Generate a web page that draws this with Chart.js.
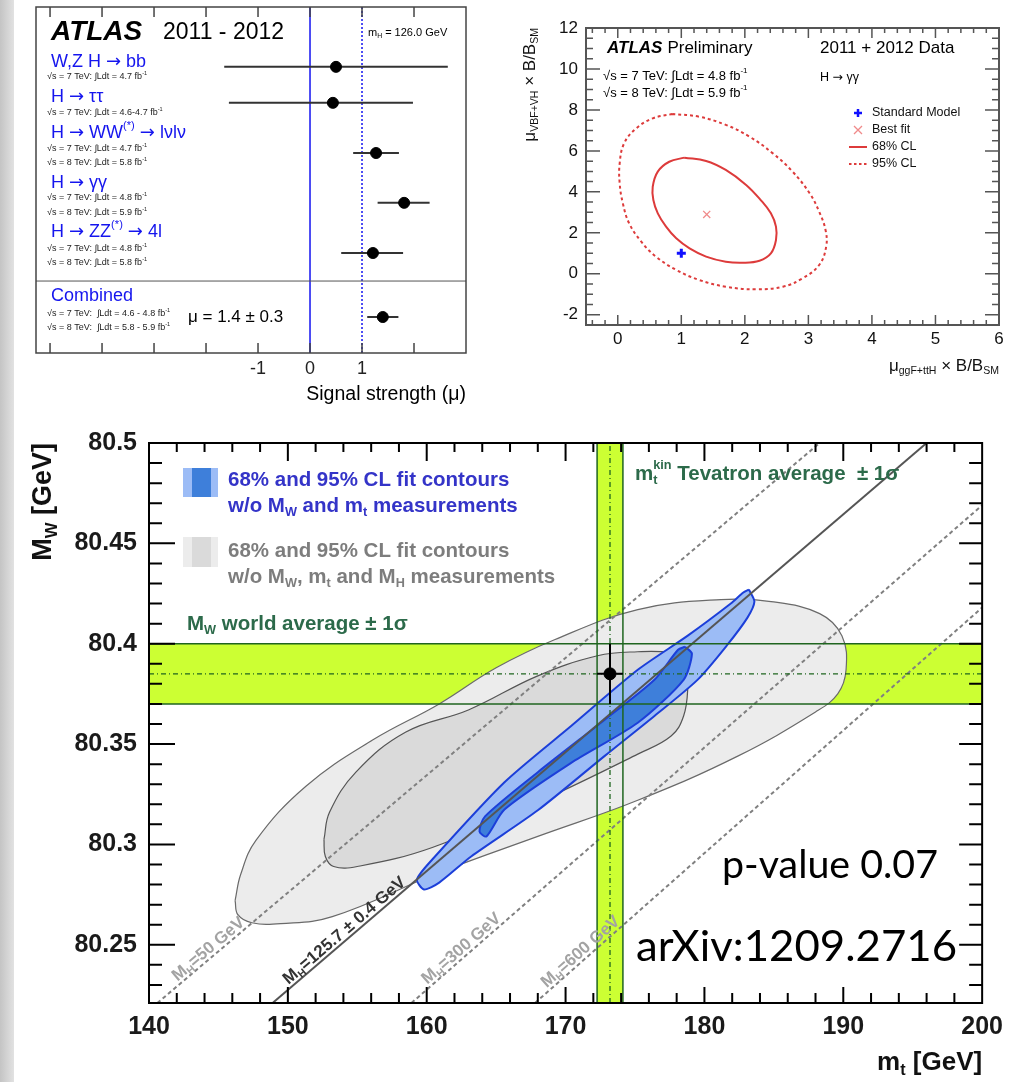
<!DOCTYPE html>
<html>
<head>
<meta charset="utf-8">
<script src="https://cdn.jsdelivr.net/npm/chart.js@4.4.1/dist/chart.umd.min.js"></script>
<style>
  html, body { margin: 0; padding: 0; background: #fff; }
  #page { position: relative; width: 1012px; height: 1082px; overflow: hidden; background: #fff; }
  #page canvas { position: absolute; }
  .edge { position: absolute; left: 0; top: 0; width: 14px; height: 1082px; background: linear-gradient(90deg, #c4c4c4, #e2e2e2); }
</style>
</head>
<body>
<div id="page">
  <div class="edge"></div>
  <canvas id="mu-summary" width="480" height="410" style="left:0;top:0"></canvas>
  <canvas id="gg-contour" width="522" height="400" style="left:490px;top:0"></canvas>
  <canvas id="mw-mt" width="1012" height="672" style="left:0;top:410px"></canvas>
</div>
<script>
// ---- signal strength per channel ----
var channelRows = [1.73, 2.77, 4.22, 5.66, 7.11, 8.96];
var muValue = [0.5, 0.44, 1.27, 1.81, 1.21, 1.4];
var muLow = [-1.65, -1.56, 0.83, 1.3, 0.6, 1.1];
var muHigh = [2.65, 1.98, 1.71, 2.3, 1.79, 1.7];
var muTicks = [-1, 0, 1];
var muFrameTicks = [-5, -4, -3, -2, -1, 0, 1, 2];
var muMin = -5.27, muMax = 3;
var combinedSplit = 7.92;

// ---- H -> gamma gamma: ggF+ttH vs VBF+VH ----
var ggfTicks = [0, 1, 2, 3, 4, 5, 6];
var vbfTicks = [-2, 0, 2, 4, 6, 8, 10, 12];
var cl68Ggf = [1.05, 0.81, 0.63, 0.55, 0.56, 0.63, 0.76, 0.92, 1.13, 1.39, 1.70, 1.97, 2.23, 2.41, 2.49, 2.49, 2.41, 2.25, 2.02, 1.70, 1.39, 1.05];
var cl68Vbf = [5.67, 5.47, 4.99, 4.25, 3.60, 2.95, 2.30, 1.73, 1.24, 0.84, 0.59, 0.54, 0.64, 1.00, 1.65, 2.30, 2.95, 3.60, 4.34, 5.07, 5.51, 5.67];
var cl95Ggf = [0.86, 0.55, 0.29, 0.10, 0.03, 0.03, 0.08, 0.18, 0.37, 0.60, 0.92, 1.28, 1.70, 2.18, 2.60, 2.91, 3.17, 3.28, 3.27, 3.17, 3.02, 2.75, 2.44, 2.07, 1.70, 1.28, 0.86];
var cl95Vbf = [7.80, 7.59, 7.10, 6.37, 5.39, 4.42, 3.44, 2.46, 1.57, 0.84, 0.19, -0.30, -0.63, -0.76, -0.63, -0.22, 0.43, 1.33, 2.14, 3.03, 3.93, 4.99, 5.88, 6.70, 7.27, 7.67, 7.80];
var bestFit = [1.4, 2.9];
var smPoint = [1, 1];

// ---- M_W vs m_t ----
var mtTicks = [140, 150, 160, 170, 180, 190, 200];
var mwTicks = [80.25, 80.3, 80.35, 80.4, 80.45, 80.5];
var mtMin = 140, mtMax = 200, mwMin = 80.221, mwMax = 80.5;
var mwAvg = 80.385, mwErr = 0.015;
var mtAvg = 173.2, mtErr = 0.93;
var mhValues = ['50', '125.7 ± 0.4', '300', '600'];
var mhLineMt = [[140.6, 188.3], [148.9, 196.0], [158.9, 200], [167.8, 200]];
var mhLineMw = [[80.221, 80.5], [80.221, 80.5], [80.221, 80.469], [80.221, 80.418]];
var grey95Mt = [146.2, 146.6, 147.7, 151.3, 156.1, 160.9, 165.0, 169.2, 175.2, 181.2, 184.8, 188.3, 189.9, 190.2, 189.6, 188.0, 182.4, 175.2, 168.0, 160.9, 153.2, 149.5, 147.4, 146.4, 146.2];
var grey95Mw = [80.272, 80.285, 80.302, 80.329, 80.352, 80.370, 80.388, 80.402, 80.417, 80.422, 80.421, 80.415, 80.404, 80.387, 80.375, 80.366, 80.344, 80.322, 80.304, 80.286, 80.264, 80.2605, 80.261, 80.265, 80.272];
var grey68Mt = [152.6, 153.0, 154.9, 158.5, 163.0, 168.0, 172.3, 175.2, 177.6, 178.7, 178.8, 178.5, 177.6, 175.2, 168.0, 160.4, 155.0, 153.3, 152.7, 152.6];
var grey68Mw = [80.3025, 80.316, 80.336, 80.356, 80.367, 80.384, 80.394, 80.396, 80.3955, 80.392, 80.378, 80.364, 80.354, 80.345, 80.321, 80.2985, 80.289, 80.289, 80.294, 80.3025];
var blue95Mt = [183.2, 183.6, 183.1, 181.6, 179.5, 176.4, 172.8, 168.0, 163.2, 160.9, 159.8, 159.3, 160.4, 165.6, 170.4, 175.2, 178.8, 181.9, 182.8, 183.2];
var blue95Mw = [80.427, 80.421, 80.413, 80.399, 80.382, 80.364, 80.344, 80.317, 80.294, 80.281, 80.2776, 80.2826, 80.2925, 80.331, 80.359, 80.387, 80.404, 80.420, 80.4255, 80.427];
var blue68Mt = [178.6, 179.1, 178.5, 175.2, 170.4, 165.6, 164.3, 163.8, 164.2, 168.0, 172.8, 176.4, 178.1, 178.6];
var blue68Mw = [80.3985, 80.395, 80.382, 80.3606, 80.3406, 80.3174, 80.304, 80.3065, 80.314, 80.336, 80.362, 80.382, 80.397, 80.3985];

var SANS = '"Liberation Sans", Arial, Helvetica, sans-serif';
var ARROW = '"DejaVu Sans", sans-serif';

function richFont(o, small, family) {
  var size = small ? o.size * 0.62 : o.size;
  return (o.style || 'normal') + ' ' + (o.weight || 'normal') + ' ' + size + 'px ' + (family || o.family || SANS);
}

// text with sub/superscripts: parts are [text, 'sub'|'sup'|'both'|'', family]
function drawRich(ctx, parts, x, y, o) {
  var widths = parts.map(function (p) {
    if (p[1] === 'both') {
      ctx.font = richFont(o, true, p[2]);
      return Math.max(ctx.measureText(p[0][0]).width, ctx.measureText(p[0][1]).width);
    }
    ctx.font = richFont(o, !!p[1], p[2]);
    return ctx.measureText(p[0]).width;
  });
  var total = widths.reduce(function (s, w) { return s + w; }, 0);
  var cx = o.align === 'right' ? x - total : (o.align === 'center' ? x - total / 2 : x);
  ctx.save();
  ctx.fillStyle = o.color || '#000';
  ctx.textAlign = 'left';
  ctx.textBaseline = 'middle';
  parts.forEach(function (p, i) {
    var mode = p[1] || '';
    ctx.font = richFont(o, mode !== '', p[2]);
    if (mode === 'both') {
      ctx.fillText(p[0][0], cx, y - o.size * 0.42);
      ctx.fillText(p[0][1], cx, y + o.size * 0.32);
    } else {
      var dy = mode === 'sub' ? o.size * 0.3 : (mode === 'sup' ? -o.size * 0.42 : 0);
      ctx.fillText(p[0], cx, y + dy);
    }
    cx += widths[i];
  });
  ctx.restore();
  return total;
}

function drawFitted(ctx, text, x, y, size, width, family) {
  ctx.save();
  ctx.font = size + 'px ' + family;
  var w = ctx.measureText(text).width;
  ctx.translate(x, y);
  ctx.scale(width / w, 1);
  ctx.textAlign = 'left';
  ctx.textBaseline = 'middle';
  ctx.fillStyle = '#000';
  ctx.fillText(text, 0, 0);
  ctx.restore();
}

function curve(xs, ys, style) {
  var ds = {
    data: xs.map(function (x, i) { return {x: x, y: ys[i]}; }),
    pointRadius: 0, borderWidth: 1, fill: false, tension: 0
  };
  return Object.assign(ds, style);
}

// first dataset in the list ends up at the bottom
function stackOrder(list) {
  list.forEach(function (d, i) { d.order = list.length - i; });
  return list;
}

function minorValues(min, max, step, majors) {
  var out = [];
  if (!step) return out;
  var n0 = Math.ceil(min / step - 1e-6), n1 = Math.floor(max / step + 1e-6);
  for (var n = n0; n <= n1; n++) {
    var v = n * step;
    if (!majors.some(function (m) { return Math.abs(m - v) < step / 10; })) out.push(v);
  }
  return out;
}

// frame with inward tick marks on the chart area
var rootFrame = {
  id: 'rootFrame',
  afterDatasetsDraw: function (chart, args, o) {
    var ctx = chart.ctx, a = chart.chartArea, sx = chart.scales.x, sy = chart.scales.y;
    ctx.save();
    ctx.strokeStyle = o.color;
    ctx.lineWidth = o.tickWidth;
    ctx.beginPath();
    function xMarks(vals, k) {
      vals.forEach(function (v) {
        var p = sx.getPixelForValue(v);
        if (p < a.left + 1 || p > a.right - 1) return;
        if (o.xLen.bottom) { ctx.moveTo(p, a.bottom); ctx.lineTo(p, a.bottom - o.xLen.bottom[k]); }
        if (o.xLen.top) { ctx.moveTo(p, a.top); ctx.lineTo(p, a.top + o.xLen.top[k]); }
      });
    }
    function yMarks(vals, k) {
      vals.forEach(function (v) {
        var p = sy.getPixelForValue(v);
        if (p < a.top + 1 || p > a.bottom - 1) return;
        if (o.yLen.left) { ctx.moveTo(a.left, p); ctx.lineTo(a.left + o.yLen.left[k], p); }
        if (o.yLen.right) { ctx.moveTo(a.right, p); ctx.lineTo(a.right - o.yLen.right[k], p); }
      });
    }
    if (o.xMajor) {
      xMarks(o.xMajor, 0);
      xMarks(minorValues(sx.min, sx.max, o.xMinorStep, o.xMajor), 1);
    }
    if (o.yMajor) {
      yMarks(o.yMajor, 0);
      yMarks(minorValues(sy.min, sy.max, o.yMinorStep, o.yMajor), 1);
    }
    ctx.stroke();
    ctx.lineWidth = o.frameWidth;
    ctx.strokeRect(a.left, a.top, a.right - a.left, a.bottom - a.top);
    ctx.restore();
  }
};

function fixedTicks(values) {
  return function (scale) { scale.ticks = values.map(function (v) { return {value: v}; }); };
}

var common = { responsive: false, animation: false, events: [] };

// ================= signal strength summary =================
var arrow = ['→', '', ARROW];
var channelText = [
  {title: [['W,Z H '], arrow, [' bb']], y: 62, lines: [[['√s = 7 TeV: ∫Ldt = 4.7 fb'], ['-1', 'sup']]], ly: [77]},
  {title: [['H '], arrow, [' ττ']], y: 97, lines: [[['√s = 7 TeV: ∫Ldt = 4.6-4.7 fb'], ['-1', 'sup']]], ly: [113]},
  {title: [['H '], arrow, [' WW'], ['(*)', 'sup'], [' '], arrow, [' lνlν']], y: 133,
   lines: [[['√s = 7 TeV: ∫Ldt = 4.7 fb'], ['-1', 'sup']], [['√s = 8 TeV: ∫Ldt = 5.8 fb'], ['-1', 'sup']]], ly: [149, 163]},
  {title: [['H '], arrow, [' γγ']], y: 183,
   lines: [[['√s = 7 TeV: ∫Ldt = 4.8 fb'], ['-1', 'sup']], [['√s = 8 TeV: ∫Ldt = 5.9 fb'], ['-1', 'sup']]], ly: [198, 213]},
  {title: [['H '], arrow, [' ZZ'], ['(*)', 'sup'], [' '], arrow, [' 4l']], y: 232,
   lines: [[['√s = 7 TeV: ∫Ldt = 4.8 fb'], ['-1', 'sup']], [['√s = 8 TeV: ∫Ldt = 5.8 fb'], ['-1', 'sup']]], ly: [249, 263]},
  {title: [['Combined']], y: 296,
   lines: [[['√s = 7 TeV:  ∫Ldt = 4.6 - 4.8 fb'], ['-1', 'sup']], [['√s = 8 TeV:  ∫Ldt = 5.8 - 5.9 fb'], ['-1', 'sup']]], ly: [314, 328]}
];

var summaryText = {
  id: 'summaryText',
  afterDraw: function (chart) {
    var ctx = chart.ctx, a = chart.chartArea;
    drawRich(ctx, [['ATLAS']], 51, 32, {size: 28, weight: 'bold', style: 'italic'});
    drawRich(ctx, [['2011 - 2012']], 163, 33, {size: 23});
    drawRich(ctx, [['m'], ['H', 'sub'], [' = 126.0 GeV']], 368, 33, {size: 11});
    channelText.forEach(function (c) {
      drawRich(ctx, c.title, 51, c.y, {size: 18, color: '#1515ee'});
      c.lines.forEach(function (l, j) {
        drawRich(ctx, l, 47, c.ly[j], {size: 9, color: '#222'});
      });
    });
    var last = muValue.length - 1;
    var muText = 'μ = ' + muValue[last].toFixed(1) + ' ± ' + ((muHigh[last] - muLow[last]) / 2).toFixed(1);
    drawRich(ctx, [[muText]], 188, 317, {size: 17});
    drawRich(ctx, [['Signal strength (μ)']], a.right, 395, {size: 19.5, align: 'right'});
  }
};

var summarySets = [
  curve([0, 0], [0, 10], {borderColor: '#1414f0', borderWidth: 1.5}),
  curve([1, 1], [0, 10], {borderColor: '#1414f0', borderWidth: 1.5, borderDash: [2, 2]}),
  curve([muMin, muMax], [combinedSplit, combinedSplit], {borderColor: '#555', borderWidth: 1})
];
channelRows.forEach(function (row, i) {
  summarySets.push(curve([muLow[i], muHigh[i]], [row, row], {borderColor: '#333', borderWidth: 2}));
});
summarySets.push({
  data: channelRows.map(function (r, i) { return {x: muValue[i], y: r}; }),
  showLine: false, pointRadius: 5.5, pointBackgroundColor: '#000', pointBorderColor: '#000'
});

new Chart(document.getElementById('mu-summary'), {
  type: 'line',
  data: { datasets: stackOrder(summarySets) },
  options: Object.assign({}, common, {
    layout: { padding: {left: 36, top: 7, right: 14, bottom: 0} },
    plugins: {
      legend: {display: false}, tooltip: {enabled: false},
      rootFrame: { color: '#444', tickWidth: 1.5, frameWidth: 1.5, xMajor: muFrameTicks, xMinorStep: 0,
                   xLen: {bottom: [10, 0], top: [10, 0]} }
    },
    scales: {
      x: { type: 'linear', min: muMin, max: muMax,
           grid: {display: false, drawTicks: false}, border: {display: false},
           afterBuildTicks: fixedTicks(muTicks),
           afterFit: function (s) { s.height = 57; },
           ticks: { padding: 5, color: '#222', font: {family: 'Liberation Sans', size: 18} } },
      y: { type: 'linear', min: 0, max: 10, reverse: true, display: false }
    }
  }),
  plugins: [rootFrame, summaryText]
});

// ================= H -> gamma gamma contours =================
var ggText = {
  id: 'ggText',
  afterDraw: function (chart) {
    var ctx = chart.ctx, a = chart.chartArea;
    var w = drawRich(ctx, [['ATLAS']], 117, 48, {size: 17, weight: 'bold', style: 'italic'});
    drawRich(ctx, [['Preliminary']], 117 + w + 5, 48, {size: 17});
    drawRich(ctx, [['2011 + 2012 Data']], 330, 48, {size: 17});
    drawRich(ctx, [['√s = 7 TeV: ∫Ldt = 4.8 fb'], ['-1', 'sup']], 113, 76, {size: 13});
    drawRich(ctx, [['√s = 8 TeV: ∫Ldt = 5.9 fb'], ['-1', 'sup']], 113, 93, {size: 13});
    drawRich(ctx, [['H '], arrow, [' γγ']], 330, 78, {size: 12.5});

    // legend
    ctx.save();
    ctx.strokeStyle = '#1010ff'; ctx.lineWidth = 2.5;
    ctx.beginPath(); ctx.moveTo(364, 113); ctx.lineTo(372, 113); ctx.moveTo(368, 109); ctx.lineTo(368, 117); ctx.stroke();
    ctx.strokeStyle = '#f08a8a'; ctx.lineWidth = 1.3;
    ctx.beginPath(); ctx.moveTo(364, 126); ctx.lineTo(372, 134); ctx.moveTo(372, 126); ctx.lineTo(364, 134); ctx.stroke();
    ctx.strokeStyle = '#dd3b3b'; ctx.lineWidth = 2;
    ctx.beginPath(); ctx.moveTo(359, 147); ctx.lineTo(377, 147); ctx.stroke();
    ctx.setLineDash([2.5, 2.5]);
    ctx.beginPath(); ctx.moveTo(359, 164); ctx.lineTo(377, 164); ctx.stroke();
    ctx.restore();
    ['Standard Model', 'Best fit', '68% CL', '95% CL'].forEach(function (t, i) {
      drawRich(ctx, [[t]], 382, [113, 130, 147, 164][i], {size: 12.5, color: '#111'});
    });

    // axis titles
    drawRich(ctx, [['μ'], ['ggF+ttH', 'sub'], [' × B/B'], ['SM', 'sub']], a.right, 366, {size: 17, align: 'right', color: '#111'});
    ctx.save();
    ctx.translate(40, a.top);
    ctx.rotate(-Math.PI / 2);
    drawRich(ctx, [['μ'], ['VBF+VH', 'sub'], [' × B/B'], ['SM', 'sub']], 0, 0, {size: 17, align: 'right', color: '#111'});
    ctx.restore();
  }
};

var ggSets = [
  curve(cl95Ggf, cl95Vbf, {borderColor: '#dd3b3b', borderWidth: 2, borderDash: [3, 3], tension: 0.4}),
  curve(cl68Ggf, cl68Vbf, {borderColor: '#dd3b3b', borderWidth: 2, tension: 0.4}),
  { data: [{x: bestFit[0], y: bestFit[1]}], showLine: false, pointStyle: 'crossRot', pointRadius: 5,
    pointBorderColor: '#f08a8a', pointBorderWidth: 1.3 },
  { data: [{x: smPoint[0], y: smPoint[1]}], showLine: false, pointStyle: 'cross', pointRadius: 4.5,
    pointBorderColor: '#1010ff', pointBorderWidth: 3 }
];

new Chart(document.getElementById('gg-contour'), {
  type: 'line',
  data: { datasets: stackOrder(ggSets) },
  options: Object.assign({}, common, {
    layout: { padding: {left: 0, top: 28, right: 13, bottom: 0} },
    plugins: {
      legend: {display: false}, tooltip: {enabled: false},
      rootFrame: { color: '#555', tickWidth: 1.5, frameWidth: 2,
                   xMajor: ggfTicks, xMinorStep: 0.2, xLen: {bottom: [10, 5], top: [10, 5]},
                   yMajor: vbfTicks, yMinorStep: 0.5, yLen: {left: [14, 7], right: [14, 7]} }
    },
    scales: {
      x: { type: 'linear', min: -0.5, max: 6,
           grid: {display: false, drawTicks: false}, border: {display: false},
           afterBuildTicks: fixedTicks(ggfTicks),
           afterFit: function (s) { s.height = 75; },
           ticks: { padding: 4, color: '#111', font: {family: 'Liberation Sans', size: 17} } },
      y: { type: 'linear', min: -2.5, max: 12,
           grid: {display: false, drawTicks: false}, border: {display: false},
           afterBuildTicks: fixedTicks(vbfTicks),
           afterFit: function (s) { s.width = 96; },
           ticks: { padding: 8, color: '#111', font: {family: 'Liberation Sans', size: 17} } }
    }
  }),
  plugins: [rootFrame, ggText]
});

// ================= M_W vs m_t =================
var mhLabelAt = [142.2, 150.2, 160.2, 168.8];
var mhLabelColor = ['#a3a3a3', '#333', '#a3a3a3', '#a3a3a3'];

var mwText = {
  id: 'mwText',
  afterDraw: function (chart) {
    var ctx = chart.ctx, a = chart.chartArea, sx = chart.scales.x, sy = chart.scales.y;

    // Higgs mass line labels, rotated along each line
    mhValues.forEach(function (mh, i) {
      var x1 = sx.getPixelForValue(mhLineMt[i][0]), y1 = sy.getPixelForValue(mhLineMw[i][0]);
      var x2 = sx.getPixelForValue(mhLineMt[i][1]), y2 = sy.getPixelForValue(mhLineMw[i][1]);
      var ang = Math.atan2(y2 - y1, x2 - x1);
      var t = (mhLabelAt[i] - mhLineMt[i][0]) / (mhLineMt[i][1] - mhLineMt[i][0]);
      var px = x1 + t * (x2 - x1) + Math.sin(ang) * 8;
      var py = y1 + t * (y2 - y1) - Math.cos(ang) * 8;
      ctx.save();
      ctx.translate(px, py);
      ctx.rotate(ang);
      drawRich(ctx, [['M'], ['H', 'sub'], ['=' + mh + ' GeV']], 0, 0, {size: 17, weight: 'bold', color: mhLabelColor[i]});
      ctx.restore();
    });

    // legend boxes
    ctx.fillStyle = '#9cbcf6'; ctx.fillRect(183, 58, 35, 29);
    ctx.fillStyle = '#3e7fda'; ctx.fillRect(192, 58, 19, 29);
    ctx.fillStyle = '#ececec'; ctx.fillRect(183, 127, 35, 30);
    ctx.fillStyle = '#dadada'; ctx.fillRect(192, 127, 19, 30);
    var lg = {size: 20.5, weight: 'bold'};
    drawRich(ctx, [['68% and 95% CL fit contours']], 228, 70, Object.assign({color: '#3434c8'}, lg));
    drawRich(ctx, [['w/o M'], ['W', 'sub'], [' and m'], ['t', 'sub'], [' measurements']], 228, 96, Object.assign({color: '#3434c8'}, lg));
    drawRich(ctx, [['68% and 95% CL fit contours']], 228, 141, Object.assign({color: '#7d7d7d'}, lg));
    drawRich(ctx, [['w/o M'], ['W', 'sub'], [', m'], ['t', 'sub'], [' and M'], ['H', 'sub'], [' measurements']], 228, 167, Object.assign({color: '#7d7d7d'}, lg));
    drawRich(ctx, [['M'], ['W', 'sub'], [' world average ± 1σ']], 187, 214, Object.assign({color: '#2c6a4a'}, lg));
    drawRich(ctx, [['m'], [['kin', 't'], 'both'], [' Tevatron average  ± 1σ']], 635, 64, Object.assign({color: '#2c6a4a'}, lg));

    drawFitted(ctx, 'p-value 0.07', 722, 456, 38, 216, 'Lato, "Open Sans", sans-serif');
    drawFitted(ctx, 'arXiv:1209.2716', 636, 537, 42, 321, 'Lato, "Open Sans", sans-serif');

    // axis titles
    drawRich(ctx, [['m'], ['t', 'sub'], [' [GeV]']], a.right, 653, {size: 26, weight: 'bold', align: 'right', color: '#111'});
    ctx.save();
    ctx.translate(44, a.top);
    ctx.rotate(-Math.PI / 2);
    drawRich(ctx, [['M'], ['W', 'sub'], [' [GeV]']], 0, 0, {size: 27, weight: 'bold', align: 'right', color: '#111'});
    ctx.restore();
  }
};

var lime = '#ccff33', bandEdge = '#1f651f';
var mwLo = mwAvg - mwErr, mwHi = mwAvg + mwErr;
var mtLo = mtAvg - mtErr, mtHi = mtAvg + mtErr;

var mwSets = [
  curve([mtMin, mtMax, mtMax, mtMin, mtMin], [mwLo, mwLo, mwHi, mwHi, mwLo],
        {fill: 'shape', backgroundColor: lime, borderColor: 'transparent'}),
  curve([mtLo, mtHi, mtHi, mtLo, mtLo], [mwMin, mwMin, mwMax, mwMax, mwMin],
        {fill: 'shape', backgroundColor: lime, borderColor: 'transparent'}),
  curve(grey95Mt, grey95Mw, {fill: 'shape', backgroundColor: '#ececec', borderColor: '#6a6a6a', borderWidth: 1.2, tension: 0.4}),
  curve(grey68Mt, grey68Mw, {fill: 'shape', backgroundColor: '#dadada', borderColor: '#555', borderWidth: 1.2, tension: 0.4}),
  curve(blue95Mt, blue95Mw, {fill: 'shape', backgroundColor: '#9cbcf6', borderColor: '#1c3fd9', borderWidth: 2, tension: 0.25}),
  curve(blue68Mt, blue68Mw, {fill: 'shape', backgroundColor: '#3e7fda', borderColor: '#1c3fd9', borderWidth: 2, tension: 0.25})
];
mhValues.forEach(function (mh, i) {
  var solid = i === 1;
  mwSets.push(curve(mhLineMt[i], mhLineMw[i], {
    borderColor: solid ? '#555' : '#808080', borderWidth: 2, borderDash: solid ? [] : [4, 3]
  }));
});
mwSets.push(
  curve([mtMin, mtMax], [mwLo, mwLo], {borderColor: bandEdge, borderWidth: 1.5}),
  curve([mtMin, mtMax], [mwHi, mwHi], {borderColor: bandEdge, borderWidth: 1.5}),
  curve([mtLo, mtLo], [mwMin, mwMax], {borderColor: bandEdge, borderWidth: 1.5}),
  curve([mtHi, mtHi], [mwMin, mwMax], {borderColor: bandEdge, borderWidth: 1.5}),
  curve([mtMin, mtMax], [mwAvg, mwAvg], {borderColor: bandEdge, borderWidth: 1.3, borderDash: [5, 3, 1, 3]}),
  curve([mtAvg, mtAvg], [mwMin, mwMax], {borderColor: bandEdge, borderWidth: 1.3, borderDash: [5, 3, 1, 3]}),
  curve([mtAvg, mtAvg], [mwLo, mwHi], {borderColor: '#000', borderWidth: 2}),
  curve([mtLo, mtHi], [mwAvg, mwAvg], {borderColor: '#000', borderWidth: 2}),
  { data: [{x: mtAvg, y: mwAvg}], showLine: false, pointRadius: 6, pointBackgroundColor: '#000', pointBorderColor: '#000' }
);

new Chart(document.getElementById('mw-mt'), {
  type: 'line',
  data: { datasets: stackOrder(mwSets) },
  options: Object.assign({}, common, {
    layout: { padding: {left: 0, top: 33, right: 29, bottom: 0} },
    plugins: {
      legend: {display: false}, tooltip: {enabled: false},
      rootFrame: { color: '#000', tickWidth: 2, frameWidth: 2,
                   xMajor: mtTicks, xMinorStep: 2, xLen: {bottom: [16, 10], top: [18, 9]},
                   yMajor: mwTicks, yMinorStep: 0.01, yLen: {left: [26, 13], right: [23, 13]} }
    },
    scales: {
      x: { type: 'linear', min: mtMin, max: mtMax,
           grid: {display: false, drawTicks: false}, border: {display: false},
           afterBuildTicks: fixedTicks(mtTicks),
           afterFit: function (s) { s.height = 79; },
           ticks: { padding: 9, color: '#1a1a1a', font: {family: 'Liberation Sans', size: 25, weight: 'bold'} } },
      y: { type: 'linear', min: mwMin, max: mwMax,
           grid: {display: false, drawTicks: false}, border: {display: false},
           afterBuildTicks: fixedTicks(mwTicks),
           afterFit: function (s) { s.width = 149; },
           ticks: { padding: 12, color: '#1a1a1a', font: {family: 'Liberation Sans', size: 25, weight: 'bold'},
                    callback: function (v) { return String(Number(v.toFixed(2))); } } }
    }
  }),
  plugins: [rootFrame, mwText]
});
</script>
</body>
</html>
